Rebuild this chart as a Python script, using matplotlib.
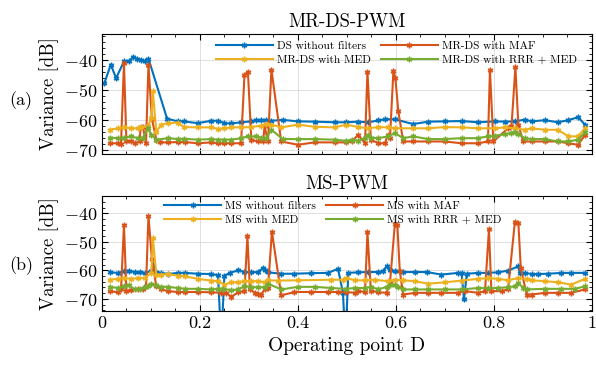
import matplotlib
matplotlib.use("Agg")
import matplotlib.pyplot as plt
from matplotlib.ticker import MultipleLocator

plt.rcParams['font.family'] = 'serif'
plt.rcParams['font.serif'] = ['cmr10']
plt.rcParams['mathtext.fontset'] = 'cm'
plt.rcParams['axes.unicode_minus'] = False
plt.rcParams['axes.formatter.use_mathtext'] = True

# matlab default colours
c_blue = '#0072BD'
c_orange = '#D95319'
c_yellow = '#EDB120'
c_green = '#77AC30'

# ---------------- MR-DS-PWM (top) ----------------
ds_x = [0.005, 0.018, 0.029, 0.045, 0.056, 0.063, 0.072, 0.080, 0.087, 0.095, 0.133, 0.155, 0.167, 0.196,
        0.223, 0.237, 0.250, 0.264, 0.284, 0.305, 0.315, 0.325, 0.335, 0.346, 0.369, 0.400, 0.434, 0.475,
        0.499, 0.523, 0.544, 0.564, 0.578, 0.598, 0.635, 0.666, 0.700, 0.734, 0.768, 0.802, 0.823, 0.843,
        0.863, 0.877, 0.904, 0.931, 0.952, 0.972, 0.986]
ds_y = [-47.6, -41.4, -45.9, -40.3, -40.1, -39.0, -39.4, -39.8, -40.3, -39.4, -59.4, -60.3, -60.3, -60.9,
        -60.1, -60.1, -60.9, -61.0, -60.6, -60.3, -60.0, -59.9, -59.9, -60.1, -59.8, -60.3, -60.4, -60.6,
        -60.6, -60.4, -60.6, -60.0, -59.6, -59.6, -61.2, -60.4, -60.3, -60.2, -60.6, -60.3, -60.4, -60.3,
        -59.7, -60.3, -59.9, -60.6, -59.9, -58.9, -61.4]

mrds_maf_x = [0.016, 0.033, 0.039, 0.045, 0.050, 0.060, 0.067, 0.077, 0.079, 0.084, 0.090, 0.095, 0.102,
              0.111, 0.118, 0.135, 0.155, 0.169, 0.196, 0.223, 0.237, 0.250, 0.264, 0.284, 0.291, 0.298,
              0.305, 0.318, 0.329, 0.332, 0.339, 0.346, 0.366, 0.400, 0.434, 0.475, 0.499, 0.510, 0.523,
              0.537, 0.542, 0.549, 0.564, 0.578, 0.583, 0.588, 0.595, 0.599, 0.605, 0.615, 0.635, 0.666,
              0.700, 0.734, 0.768, 0.788, 0.792, 0.799, 0.829, 0.836, 0.844, 0.850, 0.860, 0.877, 0.904,
              0.931, 0.952, 0.972, 0.986]
mrds_maf_y = [-67.6, -67.6, -67.9, -40.9, -67.0, -67.0, -67.6, -67.0, -62.3, -62.3, -67.6, -41.4, -59.4,
              -66.4, -67.3, -67.3, -67.2, -67.2, -67.6, -67.3, -67.6, -67.6, -67.6, -67.6, -44.8, -43.7,
              -66.4, -67.0, -67.0, -62.0, -67.0, -43.1, -67.0, -68.1, -67.3, -67.3, -67.3, -67.0, -64.8,
              -67.6, -43.7, -66.4, -67.6, -67.6, -64.8, -65.9, -43.4, -45.9, -57.0, -67.0, -67.0, -67.0,
              -67.0, -67.6, -67.6, -67.0, -43.1, -67.0, -62.6, -62.0, -42.3, -61.4, -67.0, -67.0, -67.0,
              -67.0, -67.6, -68.1, -64.8]

mrds_med_x = [0.016, 0.033, 0.046, 0.060, 0.073, 0.080, 0.094, 0.101, 0.104, 0.111, 0.121, 0.135, 0.155,
              0.167, 0.196, 0.223, 0.237, 0.250, 0.264, 0.284, 0.305, 0.325, 0.335, 0.346, 0.366, 0.400,
              0.434, 0.475, 0.499, 0.523, 0.544, 0.564, 0.584, 0.598, 0.635, 0.666, 0.700, 0.734, 0.768,
              0.802, 0.822, 0.843, 0.863, 0.877, 0.904, 0.931, 0.952, 0.972, 0.986]
mrds_med_y = [-63.1, -62.6, -62.3, -62.6, -62.6, -62.3, -62.0, -59.2, -50.3, -63.7, -61.4, -60.9, -60.7,
              -62.2, -62.3, -62.3, -62.8, -62.6, -62.3, -62.3, -62.2, -61.7, -61.1, -61.4, -62.3, -61.4,
              -62.1, -62.3, -61.4, -62.2, -62.6, -62.2, -62.3, -62.6, -62.6, -62.6, -62.2, -62.3, -62.6,
              -62.6, -62.3, -62.6, -63.1, -62.6, -63.1, -63.1, -65.3, -65.3, -62.6]

mrds_rrr_x = [0.016, 0.033, 0.046, 0.060, 0.073, 0.084, 0.094, 0.101, 0.111, 0.135, 0.155, 0.167, 0.196,
              0.223, 0.237, 0.250, 0.264, 0.284, 0.298, 0.315, 0.325, 0.335, 0.346, 0.369, 0.400, 0.434,
              0.475, 0.499, 0.510, 0.523, 0.537, 0.544, 0.550, 0.564, 0.584, 0.598, 0.615, 0.635, 0.666,
              0.700, 0.734, 0.768, 0.788, 0.802, 0.822, 0.836, 0.843, 0.850, 0.863, 0.877, 0.904, 0.931,
              0.952, 0.972, 0.986]
mrds_rrr_y = [-65.7, -65.9, -65.7, -65.3, -65.9, -65.7, -62.6, -64.8, -66.4, -65.9, -66.2, -66.1, -66.4,
              -66.2, -66.4, -66.4, -66.4, -65.9, -65.3, -65.3, -65.7, -65.9, -63.1, -66.2, -66.2, -66.2,
              -66.4, -66.8, -66.4, -66.8, -65.9, -64.8, -65.7, -65.9, -65.3, -64.2, -65.9, -65.3, -66.2,
              -66.2, -65.9, -65.9, -65.3, -65.1, -64.6, -64.2, -63.7, -64.6, -65.9, -66.2, -66.2, -67.0,
              -67.0, -66.4, -63.9]

# ---------------- MS-PWM (bottom) ----------------
# values below the axis limit are drawn off the axes
ms_x = [0.016, 0.033, 0.046, 0.056, 0.067, 0.077, 0.087, 0.101, 0.104, 0.111, 0.121, 0.135, 0.155, 0.169,
        0.196, 0.223, 0.237, 0.2435, 0.250, 0.261, 0.278, 0.291, 0.305, 0.318, 0.329, 0.332, 0.339, 0.366,
        0.393, 0.427, 0.461, 0.482, 0.492, 0.497, 0.503, 0.523, 0.544, 0.564, 0.574, 0.581, 0.588, 0.598,
        0.615, 0.639, 0.663, 0.693, 0.727, 0.734, 0.739, 0.745, 0.768, 0.788, 0.809, 0.829, 0.850, 0.853,
        0.863, 0.877, 0.890, 0.911, 0.938, 0.958, 0.986]
ms_y = [-60.7, -60.9, -60.3, -60.1, -60.7, -60.7, -60.9, -60.3, -58.0, -60.7, -60.9, -61.3, -60.9, -60.9,
        -61.2, -61.3, -61.7, -85.0, -61.9, -60.9, -60.0, -60.6, -60.7, -60.6, -59.2, -59.8, -60.7, -61.2,
        -61.2, -61.0, -60.9, -59.5, -67.9, -85.0, -60.9, -60.7, -60.6, -60.6, -60.3, -58.6, -60.0, -60.3,
        -60.6, -60.6, -60.6, -61.5, -60.9, -60.9, -70.0, -61.2, -60.9, -60.9, -60.7, -60.1, -58.6, -60.9,
        -60.9, -61.3, -61.3, -61.2, -60.9, -60.9, -60.9]

ms_maf_x = [0.016, 0.033, 0.039, 0.045, 0.050, 0.060, 0.073, 0.084, 0.090, 0.095, 0.102, 0.111, 0.121,
            0.135, 0.155, 0.169, 0.196, 0.223, 0.2435, 0.254, 0.264, 0.278, 0.291, 0.297, 0.302, 0.312,
            0.318, 0.325, 0.332, 0.339, 0.347, 0.366, 0.393, 0.427, 0.461, 0.482, 0.499, 0.516, 0.523,
            0.537, 0.542, 0.549, 0.564, 0.581, 0.588, 0.598, 0.603, 0.608, 0.615, 0.639, 0.666, 0.693,
            0.727, 0.741, 0.768, 0.782, 0.790, 0.795, 0.816, 0.829, 0.843, 0.850, 0.855, 0.867, 0.877,
            0.904, 0.931, 0.958, 0.986]
ms_maf_y = [-67.3, -67.7, -66.7, -44.1, -67.3, -67.0, -66.7, -66.7, -65.6, -40.9, -56.0, -65.6, -66.7,
            -67.3, -67.6, -67.6, -67.6, -67.7, -67.9, -67.9, -69.3, -67.7, -67.3, -47.9, -66.7, -67.9,
            -68.2, -68.5, -66.7, -66.2, -46.4, -68.8, -67.6, -67.6, -67.6, -67.6, -67.6, -67.9, -67.1,
            -67.7, -46.7, -67.1, -67.7, -67.9, -64.4, -43.7, -44.1, -60.3, -68.5, -67.9, -67.9, -67.9,
            -67.9, -67.3, -67.9, -67.3, -45.6, -67.3, -67.3, -66.7, -42.9, -43.3, -59.2, -68.5, -68.5,
            -67.9, -67.9, -67.9, -66.7]

ms_med_x = [0.016, 0.033, 0.046, 0.060, 0.073, 0.087, 0.101, 0.104, 0.111, 0.121, 0.135, 0.155, 0.169,
            0.196, 0.223, 0.237, 0.250, 0.264, 0.278, 0.291, 0.305, 0.318, 0.332, 0.339, 0.359, 0.400,
            0.468, 0.492, 0.499, 0.516, 0.537, 0.557, 0.584, 0.598, 0.615, 0.639, 0.666, 0.700, 0.734,
            0.768, 0.788, 0.809, 0.829, 0.850, 0.867, 0.877, 0.904, 0.931, 0.958, 0.986]
ms_med_y = [-63.3, -63.0, -62.7, -63.0, -62.7, -62.7, -60.9, -48.7, -61.5, -61.5, -61.3, -61.9, -62.1,
            -63.0, -63.6, -63.8, -65.0, -64.2, -64.2, -63.8, -63.8, -63.8, -64.2, -63.5, -63.6, -63.5,
            -63.3, -63.3, -62.7, -63.5, -63.5, -63.3, -63.8, -63.3, -63.5, -63.8, -64.7, -64.2, -63.6,
            -63.0, -62.7, -63.0, -63.5, -62.7, -63.0, -63.5, -63.8, -64.2, -65.0, -63.0]

ms_rrr_x = [0.016, 0.033, 0.046, 0.056, 0.067, 0.077, 0.087, 0.094, 0.101, 0.111, 0.121, 0.135, 0.155,
            0.169, 0.196, 0.223, 0.237, 0.247, 0.264, 0.278, 0.291, 0.305, 0.318, 0.332, 0.339, 0.366,
            0.400, 0.434, 0.468, 0.499, 0.516, 0.537, 0.550, 0.564, 0.581, 0.588, 0.598, 0.605, 0.615,
            0.639, 0.666, 0.700, 0.734, 0.768, 0.788, 0.809, 0.829, 0.843, 0.850, 0.860, 0.867, 0.904,
            0.938, 0.965, 0.986]
ms_rrr_y = [-65.8, -66.2, -65.6, -65.3, -66.7, -66.7, -65.8, -65.6, -64.8, -65.3, -65.8, -65.8, -66.2,
            -66.5, -66.5, -66.7, -66.5, -66.4, -67.0, -66.7, -65.6, -65.8, -66.0, -65.9, -64.7, -66.7,
            -65.8, -65.8, -66.2, -66.5, -66.2, -66.2, -65.8, -66.7, -65.8, -65.0, -65.0, -65.8, -66.7,
            -66.7, -66.7, -66.7, -66.7, -66.2, -66.2, -66.2, -65.9, -65.6, -64.4, -66.2, -66.7, -66.5,
            -66.5, -66.5, -65.6]

fig = plt.figure(figsize=(5.96, 3.66), dpi=100)
ax1 = fig.add_axes([0.171, 0.579, 0.822, 0.328])
ax2 = fig.add_axes([0.171, 0.150, 0.822, 0.314])

style = dict(marker=(6, 2, 0), markersize=4, linewidth=1.5, markeredgewidth=1.0)

l1, = ax1.plot(ds_x, ds_y, color=c_blue, label='DS without filters', **style)
l2, = ax1.plot(mrds_maf_x, mrds_maf_y, color=c_orange, label='MR-DS with MAF', **style)
l3, = ax1.plot(mrds_med_x, mrds_med_y, color=c_yellow, label='MR-DS with MED', **style)
l4, = ax1.plot(mrds_rrr_x, mrds_rrr_y, color=c_green, label='MR-DS with RRR + MED', **style)

m1, = ax2.plot(ms_x, ms_y, color=c_blue, label='MS without filters', **style)
m2, = ax2.plot(ms_maf_x, ms_maf_y, color=c_orange, label='MS with MAF', **style)
m3, = ax2.plot(ms_med_x, ms_med_y, color=c_yellow, label='MS with MED', **style)
m4, = ax2.plot(ms_rrr_x, ms_rrr_y, color=c_green, label='MS with RRR + MED', **style)

ax1.set_ylim(-71.2, -31.2)
ax2.set_ylim(-74.3, -34.0)

for ax in (ax1, ax2):
    ax.set_xlim(0, 1)
    ax.set_yticks([-70, -60, -50, -40])
    ax.xaxis.set_major_locator(MultipleLocator(0.2))
    ax.xaxis.set_minor_locator(MultipleLocator(0.05))
    ax.yaxis.set_minor_locator(MultipleLocator(2))
    ax.tick_params(which='both', direction='in', top=True, right=True, labelsize=13)
    ax.tick_params(which='major', length=4)
    ax.tick_params(which='minor', length=2.5)
    ax.grid(True, which='major', color='#d9d9d9', linewidth=0.6)
    ax.set_axisbelow(True)
    ax.set_ylabel('Variance [dB]', fontsize=13.5, labelpad=3)
    for s in ax.spines.values():
        s.set_linewidth(0.8)

ax1.set_xticklabels([])
ax1.set_title('MR-DS-PWM', fontsize=13.5, pad=5)
ax2.set_title('MS-PWM', fontsize=13.5, pad=5)
ax2.set_xticks([0, 0.2, 0.4, 0.6, 0.8, 1])
ax2.set_xticklabels(['0', '0.2', '0.4', '0.6', '0.8', '1'])
ax2.set_xlabel('Operating point D', fontsize=14, labelpad=4)

# legend filled row by row like matlab
leg_kw = dict(ncol=2, frameon=False, fontsize=8.2, handlelength=5.0, handletextpad=0.35,
              columnspacing=0.9, labelspacing=0.35, borderaxespad=0, borderpad=0)
ax1.legend([l1, l3, l2, l4], [l.get_label() for l in (l1, l3, l2, l4)],
           loc='upper right', bbox_to_anchor=(0.969, 0.94), **leg_kw)
ax2.legend([m1, m3, m2, m4], [l.get_label() for l in (m1, m3, m2, m4)],
           loc='upper right', bbox_to_anchor=(0.816, 0.96), **leg_kw)

fig.text(0.035, 0.725, '(a)', fontsize=13, ha='center', va='center')
fig.text(0.035, 0.275, '(b)', fontsize=13, ha='center', va='center')

fig.savefig('out.png', dpi=100)
